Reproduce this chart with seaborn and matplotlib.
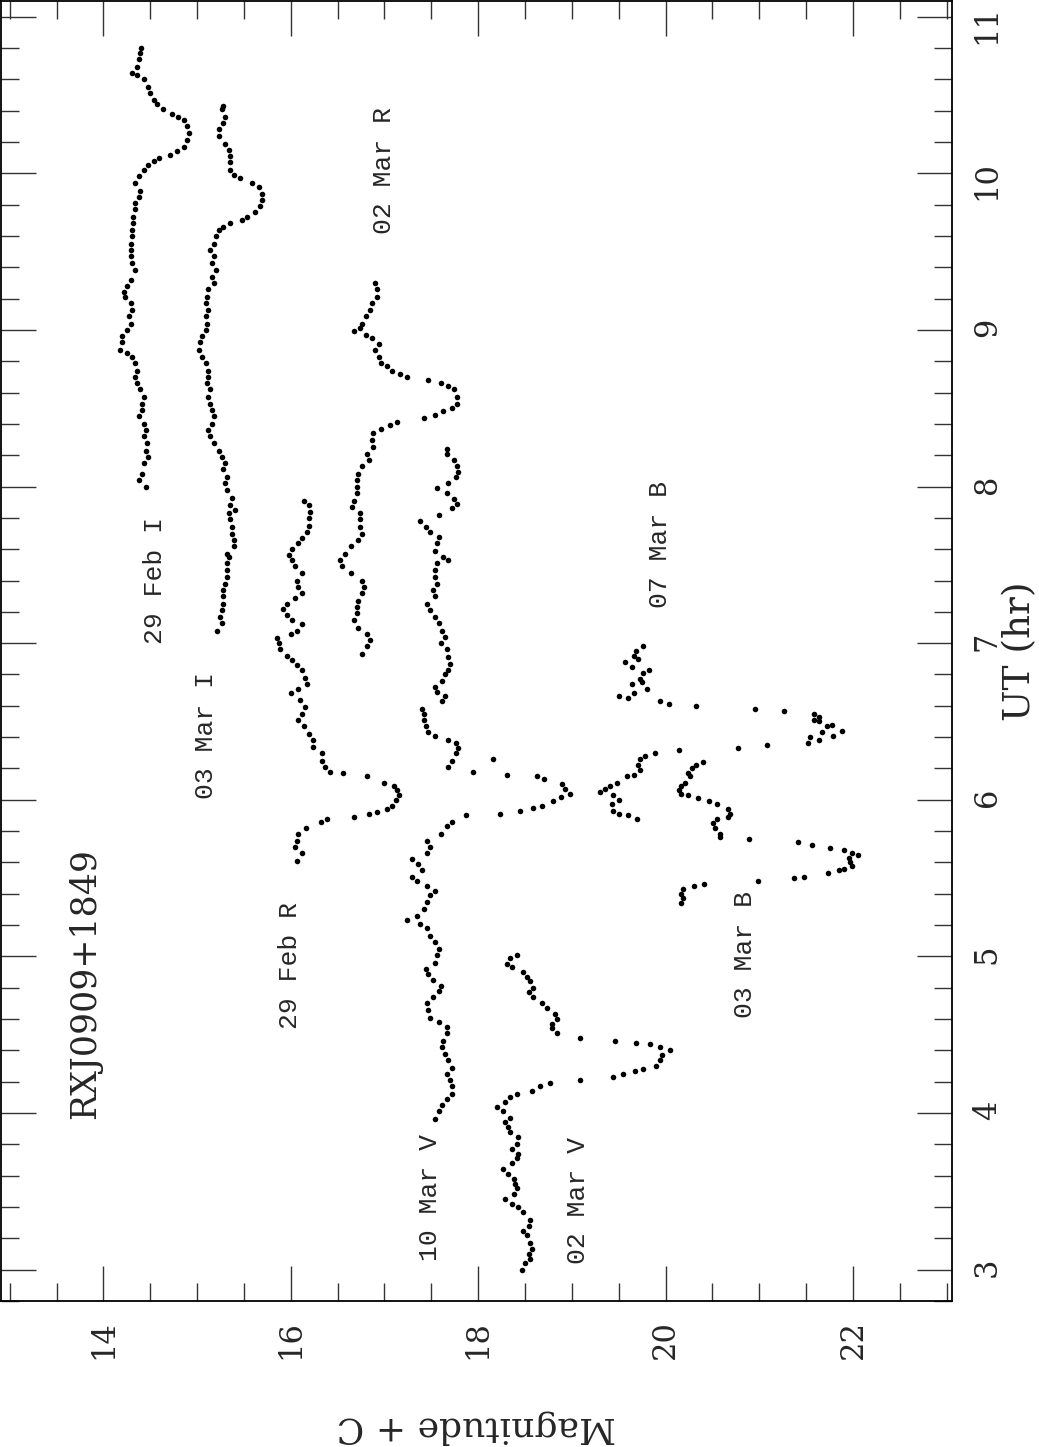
import numpy as np
import pandas as pd
import seaborn as sns
import matplotlib
matplotlib.use("Agg")
import matplotlib.pyplot as plt
from matplotlib.ticker import MultipleLocator

# light curves of RXJ0909+1849, columns: UT (hr), magnitude + C
feb29_I = np.array([
    [8.00, 14.45], [8.04, 14.38], [8.08, 14.41], [8.15, 14.43], [8.19, 14.48], [8.23, 14.45],
    [8.28, 14.47], [8.32, 14.43], [8.36, 14.45], [8.40, 14.43], [8.45, 14.38], [8.49, 14.41],
    [8.53, 14.41], [8.57, 14.43], [8.62, 14.39], [8.66, 14.36], [8.70, 14.34], [8.74, 14.36],
    [8.79, 14.34], [8.83, 14.31], [8.85, 14.25], [8.87, 14.18], [8.92, 14.20], [8.96, 14.20],
    [9.00, 14.25], [9.04, 14.29], [9.09, 14.27], [9.13, 14.31], [9.17, 14.29], [9.21, 14.23],
    [9.24, 14.22], [9.28, 14.25], [9.32, 14.29], [9.38, 14.34], [9.43, 14.31], [9.47, 14.29],
    [9.51, 14.29], [9.55, 14.29], [9.60, 14.31], [9.64, 14.31], [9.68, 14.32], [9.72, 14.32],
    [9.77, 14.34], [9.81, 14.34], [9.85, 14.38], [9.89, 14.39], [9.94, 14.34], [9.98, 14.38],
    [10.02, 14.43], [10.05, 14.48], [10.08, 14.54], [10.10, 14.59], [10.12, 14.71], [10.14, 14.79],
    [10.17, 14.86], [10.21, 14.89], [10.26, 14.91], [10.30, 14.89], [10.34, 14.86], [10.36, 14.80],
    [10.38, 14.73], [10.41, 14.64], [10.44, 14.57], [10.47, 14.54], [10.51, 14.50], [10.55, 14.48],
    [10.60, 14.43], [10.63, 14.36], [10.64, 14.31], [10.68, 14.36], [10.73, 14.38], [10.77, 14.39],
    [10.80, 14.40],
])

mar03_I = np.array([
    [7.08, 15.21], [7.13, 15.27], [7.17, 15.25], [7.21, 15.27], [7.25, 15.28], [7.30, 15.28],
    [7.34, 15.28], [7.38, 15.30], [7.42, 15.32], [7.47, 15.32], [7.51, 15.32], [7.55, 15.34],
    [7.57, 15.32], [7.62, 15.39], [7.66, 15.39], [7.70, 15.37], [7.74, 15.37], [7.79, 15.35],
    [7.83, 15.34], [7.85, 15.41], [7.88, 15.35], [7.93, 15.37], [7.98, 15.32], [8.02, 15.30],
    [8.06, 15.32], [8.11, 15.28], [8.15, 15.30], [8.19, 15.27], [8.23, 15.23], [8.28, 15.18],
    [8.32, 15.14], [8.36, 15.12], [8.40, 15.16], [8.45, 15.18], [8.49, 15.16], [8.53, 15.14],
    [8.57, 15.12], [8.62, 15.14], [8.66, 15.11], [8.70, 15.12], [8.74, 15.12], [8.79, 15.09],
    [8.83, 15.05], [8.87, 15.02], [8.92, 15.03], [8.96, 15.05], [9.00, 15.09], [9.04, 15.11],
    [9.09, 15.09], [9.13, 15.12], [9.17, 15.09], [9.21, 15.11], [9.26, 15.12], [9.30, 15.18],
    [9.34, 15.16], [9.38, 15.20], [9.43, 15.16], [9.47, 15.18], [9.51, 15.14], [9.55, 15.18],
    [9.60, 15.20], [9.64, 15.23], [9.66, 15.28], [9.68, 15.35], [9.70, 15.48], [9.72, 15.53],
    [9.75, 15.62], [9.79, 15.67], [9.83, 15.69], [9.87, 15.69], [9.91, 15.66], [9.94, 15.59],
    [9.97, 15.46], [9.99, 15.39], [10.02, 15.35], [10.07, 15.35], [10.11, 15.35], [10.15, 15.34],
    [10.19, 15.30], [10.24, 15.23], [10.28, 15.23], [10.32, 15.28], [10.36, 15.30], [10.41, 15.27],
    [10.43, 15.28],
])

mar02_R = np.array([
    [6.93, 16.76], [6.98, 16.81], [7.02, 16.85], [7.06, 16.81], [7.10, 16.72], [7.15, 16.67],
    [7.19, 16.71], [7.23, 16.71], [7.27, 16.72], [7.32, 16.76], [7.36, 16.78], [7.40, 16.76],
    [7.45, 16.64], [7.49, 16.55], [7.53, 16.53], [7.57, 16.58], [7.62, 16.64], [7.66, 16.72],
    [7.70, 16.76], [7.74, 16.74], [7.79, 16.74], [7.83, 16.74], [7.87, 16.65], [7.91, 16.67],
    [7.96, 16.71], [8.00, 16.71], [8.04, 16.71], [8.08, 16.72], [8.13, 16.76], [8.17, 16.83],
    [8.21, 16.81], [8.25, 16.88], [8.30, 16.87], [8.34, 16.88], [8.37, 16.96], [8.39, 17.06],
    [8.41, 17.13], [8.44, 17.42], [8.46, 17.54], [8.48, 17.63], [8.50, 17.72], [8.53, 17.77],
    [8.57, 17.77], [8.62, 17.74], [8.64, 17.68], [8.66, 17.60], [8.68, 17.47], [8.70, 17.24],
    [8.72, 17.17], [8.74, 17.08], [8.77, 17.03], [8.79, 16.96], [8.83, 16.94], [8.87, 16.90],
    [8.91, 16.94], [8.95, 16.87], [8.97, 16.80], [8.99, 16.67], [9.01, 16.74], [9.04, 16.76],
    [9.09, 16.80], [9.13, 16.85], [9.17, 16.87], [9.21, 16.92], [9.26, 16.92], [9.30, 16.90],
])

feb29_R = np.array([
    [5.61, 16.07], [5.66, 16.12], [5.70, 16.05], [5.74, 16.07], [5.78, 16.08], [5.82, 16.16],
    [5.86, 16.32], [5.88, 16.39], [5.89, 16.67], [5.91, 16.83], [5.92, 16.92], [5.94, 17.03],
    [5.96, 17.08], [6.00, 17.12], [6.03, 17.15], [6.06, 17.13], [6.09, 17.10], [6.11, 16.99],
    [6.15, 16.81], [6.17, 16.56], [6.18, 16.42], [6.21, 16.37], [6.25, 16.33], [6.30, 16.33],
    [6.34, 16.24], [6.38, 16.24], [6.42, 16.19], [6.47, 16.14], [6.51, 16.08], [6.55, 16.12],
    [6.59, 16.15], [6.64, 16.10], [6.68, 16.00], [6.71, 16.08], [6.74, 16.17], [6.78, 16.15],
    [6.83, 16.12], [6.86, 16.07], [6.89, 16.01], [6.92, 15.96], [6.96, 15.89], [7.00, 15.87],
    [7.03, 15.85], [7.06, 16.00], [7.08, 16.07], [7.12, 16.12], [7.15, 16.01], [7.18, 15.96],
    [7.22, 15.92], [7.25, 15.96], [7.29, 16.05], [7.32, 16.12], [7.36, 16.08], [7.40, 16.07],
    [7.45, 16.12], [7.49, 16.05], [7.53, 16.01], [7.56, 15.98], [7.60, 16.01], [7.64, 16.08],
    [7.67, 16.12], [7.71, 16.17], [7.75, 16.19], [7.80, 16.19], [7.84, 16.21], [7.88, 16.19],
    [7.91, 16.14],
])

mar10_V = np.array([
    [3.96, 17.54], [4.01, 17.58], [4.05, 17.61], [4.09, 17.67], [4.12, 17.72], [4.17, 17.72],
    [4.21, 17.70], [4.25, 17.67], [4.29, 17.72], [4.34, 17.68], [4.38, 17.65], [4.42, 17.61],
    [4.46, 17.63], [4.51, 17.67], [4.55, 17.67], [4.58, 17.58], [4.61, 17.49], [4.66, 17.47],
    [4.70, 17.45], [4.74, 17.52], [4.78, 17.58], [4.81, 17.60], [4.85, 17.52], [4.89, 17.47],
    [4.92, 17.44], [4.96, 17.54], [5.01, 17.56], [5.05, 17.58], [5.09, 17.54], [5.13, 17.49],
    [5.18, 17.45], [5.21, 17.38], [5.23, 17.24], [5.26, 17.35], [5.30, 17.42], [5.35, 17.45],
    [5.39, 17.49], [5.42, 17.54], [5.45, 17.45], [5.48, 17.35], [5.51, 17.29], [5.55, 17.40],
    [5.59, 17.36], [5.62, 17.29], [5.66, 17.45], [5.70, 17.49], [5.74, 17.45], [5.78, 17.60],
    [5.83, 17.67], [5.86, 17.72], [5.90, 17.87], [5.91, 18.23], [5.93, 18.45], [5.95, 18.59],
    [5.96, 18.68], [5.99, 18.80], [6.02, 18.88], [6.04, 18.98], [6.07, 18.93], [6.10, 18.89],
    [6.13, 18.70], [6.15, 18.63], [6.16, 18.31], [6.18, 17.95], [6.21, 17.68], [6.25, 17.72],
    [6.26, 18.16], [6.30, 17.76], [6.33, 17.79], [6.36, 17.76], [6.38, 17.68], [6.41, 17.54],
    [6.43, 17.47], [6.47, 17.44], [6.51, 17.42], [6.55, 17.42], [6.58, 17.40], [6.63, 17.61],
    [6.66, 17.65], [6.69, 17.56], [6.72, 17.54], [6.76, 17.61], [6.80, 17.65], [6.83, 17.68],
    [6.87, 17.70], [6.91, 17.68], [6.96, 17.67], [7.00, 17.60], [7.04, 17.65], [7.08, 17.61],
    [7.13, 17.58], [7.17, 17.54], [7.21, 17.49], [7.25, 17.45], [7.30, 17.54], [7.34, 17.52],
    [7.38, 17.56], [7.42, 17.54], [7.47, 17.54], [7.51, 17.56], [7.53, 17.68], [7.55, 17.63],
    [7.59, 17.54], [7.64, 17.56], [7.68, 17.58], [7.71, 17.49], [7.74, 17.44], [7.78, 17.38],
    [7.82, 17.58], [7.86, 17.72], [7.89, 17.77], [7.92, 17.74], [7.96, 17.67], [7.99, 17.56],
    [8.02, 17.68], [8.06, 17.76], [8.09, 17.79], [8.13, 17.77], [8.17, 17.74], [8.21, 17.67],
    [8.24, 17.67],
])

mar02_V = np.array([
    [3.00, 18.47], [3.04, 18.50], [3.07, 18.55], [3.10, 18.54], [3.13, 18.57], [3.17, 18.55],
    [3.22, 18.52], [3.25, 18.48], [3.28, 18.54], [3.32, 18.55], [3.37, 18.48], [3.40, 18.43],
    [3.42, 18.36], [3.45, 18.29], [3.48, 18.38], [3.52, 18.41], [3.55, 18.39], [3.58, 18.38],
    [3.61, 18.32], [3.64, 18.27], [3.68, 18.36], [3.71, 18.41], [3.74, 18.43], [3.77, 18.36],
    [3.80, 18.41], [3.85, 18.43], [3.88, 18.34], [3.91, 18.32], [3.94, 18.29], [3.97, 18.34],
    [4.01, 18.27], [4.04, 18.20], [4.07, 18.29], [4.10, 18.34], [4.12, 18.41], [4.14, 18.57],
    [4.17, 18.66], [4.19, 18.77], [4.21, 19.09], [4.23, 19.44], [4.25, 19.55], [4.27, 19.67],
    [4.28, 19.76], [4.30, 19.90], [4.34, 19.94], [4.37, 19.96], [4.40, 20.05], [4.42, 19.94],
    [4.44, 19.83], [4.45, 19.69], [4.46, 19.46], [4.48, 19.09], [4.51, 18.84], [4.54, 18.79],
    [4.57, 18.79], [4.60, 18.84], [4.63, 18.82], [4.67, 18.73], [4.70, 18.68], [4.74, 18.59],
    [4.77, 18.54], [4.80, 18.59], [4.84, 18.55], [4.87, 18.52], [4.90, 18.48], [4.93, 18.36],
    [4.95, 18.31], [4.99, 18.34], [5.01, 18.41],
])

mar07_B = np.array([
    [5.88, 19.70], [5.90, 19.60], [5.91, 19.50], [5.93, 19.44], [5.97, 19.43], [6.00, 19.50],
    [6.03, 19.44], [6.05, 19.30], [6.07, 19.35], [6.09, 19.41], [6.11, 19.48], [6.15, 19.59],
    [6.16, 19.66], [6.19, 19.73], [6.22, 19.71], [6.26, 19.73], [6.28, 19.78], [6.30, 19.89],
    [6.32, 20.14], [6.33, 20.77], [6.35, 21.08], [6.36, 21.52], [6.38, 21.64], [6.40, 21.54],
    [6.41, 21.79], [6.43, 21.67], [6.44, 21.88], [6.47, 21.72], [6.48, 21.78], [6.50, 21.64],
    [6.51, 21.58], [6.53, 21.64], [6.55, 21.58], [6.57, 21.26], [6.58, 20.95], [6.60, 20.32],
    [6.61, 20.04], [6.63, 19.94], [6.65, 19.60], [6.66, 19.50], [6.68, 19.66], [6.71, 19.80],
    [6.74, 19.64], [6.75, 19.75], [6.77, 19.73], [6.81, 19.76], [6.83, 19.82], [6.85, 19.64],
    [6.88, 19.57], [6.90, 19.71], [6.92, 19.66], [6.95, 19.69], [6.98, 19.76],
])

mar03_B = np.array([
    [5.34, 20.16], [5.37, 20.19], [5.40, 20.17], [5.43, 20.19], [5.45, 20.30], [5.46, 20.41],
    [5.48, 20.99], [5.50, 21.37], [5.51, 21.48], [5.53, 21.73], [5.55, 21.85], [5.56, 21.90],
    [5.58, 21.99], [5.60, 21.97], [5.63, 21.96], [5.65, 22.05], [5.66, 21.99], [5.68, 21.90],
    [5.69, 21.75], [5.71, 21.56], [5.73, 21.41], [5.75, 20.89], [5.76, 20.58], [5.78, 20.58],
    [5.82, 20.53], [5.85, 20.51], [5.88, 20.55], [5.89, 20.67], [5.91, 20.69], [5.94, 20.67],
    [5.97, 20.55], [5.99, 20.46], [6.01, 20.35], [6.03, 20.24], [6.04, 20.17], [6.06, 20.14],
    [6.09, 20.16], [6.11, 20.21], [6.15, 20.26], [6.17, 20.24], [6.20, 20.28], [6.22, 20.33],
    [6.24, 20.40],
])

nights = {
    "29 Feb I": feb29_I, "03 Mar I": mar03_I, "02 Mar R": mar02_R, "29 Feb R": feb29_R,
    "10 Mar V": mar10_V, "02 Mar V": mar02_V, "07 Mar B": mar07_B, "03 Mar B": mar03_B,
}

# where each night's label is written (magnitude, UT)
label_names = ["29 Feb I", "03 Mar I", "02 Mar R", "29 Feb R", "10 Mar V", "02 Mar V", "03 Mar B", "07 Mar B"]
label_mag = [14.55, 15.09, 16.99, 15.99, 17.49, 19.07, 20.85, 19.94]
label_ut = [7.40, 6.41, 10.02, 4.94, 3.46, 3.44, 5.01, 7.63]

frames = []
for name, arr in nights.items():
    frames.append(pd.DataFrame({"ut": arr[:, 0], "mag": arr[:, 1], "night": name}))
df = pd.concat(frames, ignore_index=True)

sns.set_style("ticks")
plt.rcParams["font.family"] = ["DejaVu Serif"]

fig = plt.figure(figsize=(10.39, 14.47), dpi=100)
ax = fig.add_axes([0.0012, 0.1009, 0.9153, 0.8984])

sns.scatterplot(data=df, x="mag", y="ut", color="black", s=16, linewidth=0,
                legend=False, ax=ax)

ax.set_xlim(12.91, 23.06)
ax.set_ylim(2.8, 11.1)
ax.xaxis.set_major_locator(MultipleLocator(2))
ax.xaxis.set_minor_locator(MultipleLocator(0.5))
ax.yaxis.set_major_locator(MultipleLocator(1))
ax.yaxis.set_minor_locator(MultipleLocator(0.2))

ax.tick_params(which="both", direction="in", top=True, bottom=True, left=True, right=True,
               labelleft=False, labelright=True, labelbottom=True, labeltop=False,
               width=1.0, color="#333333")
ax.tick_params(which="major", length=25)
ax.tick_params(which="minor", length=13)
ax.tick_params(axis="both", labelsize=22, pad=14)
ax.tick_params(axis="x", labelrotation=90)
ax.tick_params(axis="y", labelrotation=90)
for s in ax.spines.values():
    s.set_linewidth(1.3)
    s.set_color("black")

ax.set_xlabel("Magnitude + C", fontsize=26, rotation=180, va="center", ha="center")
ax.xaxis.set_label_coords(0.5, -0.097)
ax.yaxis.set_label_position("right")
ax.set_ylabel("UT (hr)", fontsize=27, rotation=90, va="center", ha="center")
ax.yaxis.set_label_coords(1.0715, 0.5)

ax.text(13.80, 4.83, "RXJ0909+1849", rotation=90, ha="center", va="center", fontsize=25)
for name, m, t in zip(label_names, label_mag, label_ut):
    ax.text(m, t, name, rotation=90, ha="center", va="center",
            family="Liberation Mono", fontsize=19)

fig.savefig("out.png", dpi=100)
